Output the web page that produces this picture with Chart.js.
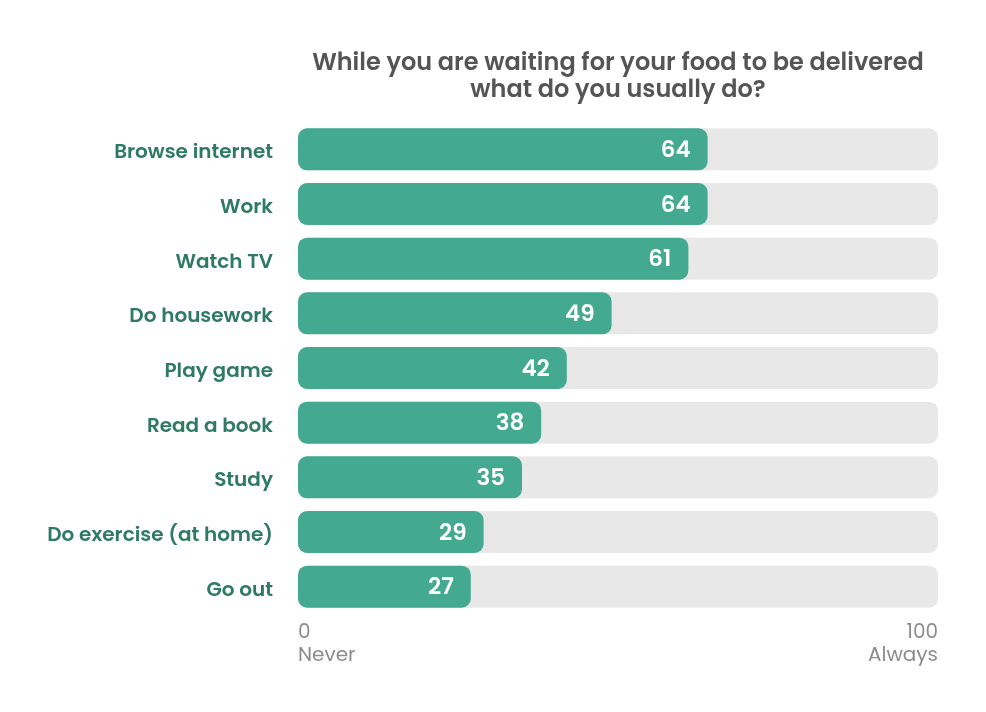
<!DOCTYPE html>
<html>
<head>
<meta charset="utf-8">
<script src="https://cdn.jsdelivr.net/npm/chart.js@4"></script>
<style>
  body { margin: 0; background: #fff; }
  #chart { display: block; }
</style>
</head>
<body>
<canvas id="chart" width="986" height="712"></canvas>
<script>
const titleLines = ["While you are waiting for your food to be delivered", "what do you usually do?"];
const activities = ["Browse internet", "Work", "Watch TV", "Do housework", "Play game", "Read a book", "Study", "Do exercise (at home)", "Go out"];
const scores = [64, 64, 61, 49, 42, 38, 35, 29, 27];
const maxScore = 100;
const endLabels = { 0: "Never", 100: "Always" };

const FONT = "Poppins, Inter, 'Open Sans', sans-serif";

// title centred over the plot area, not the whole canvas
const titlePlugin = {
  id: "centredTitle",
  afterDraw(chart) {
    const { ctx, chartArea } = chart;
    const cx = (chartArea.left + chartArea.right) / 2;
    ctx.save();
    ctx.font = "600 24px " + FONT;
    ctx.fillStyle = "#555555";
    ctx.textAlign = "center";
    ctx.textBaseline = "middle";
    titleLines.forEach((line, i) => ctx.fillText(line, cx, 64 + i * 27));
    ctx.restore();
  }
};

const valueLabels = {
  id: "valueLabels",
  afterDatasetsDraw(chart) {
    const { ctx } = chart;
    const meta = chart.getDatasetMeta(1);
    ctx.save();
    ctx.font = "600 23px " + FONT;
    ctx.fillStyle = "#ffffff";
    ctx.textAlign = "right";
    ctx.textBaseline = "middle";
    meta.data.forEach((bar, i) => {
      ctx.fillText(scores[i], bar.x - 17, bar.y + 2);
    });
    ctx.restore();
  }
};

new Chart(document.getElementById("chart"), {
  type: "bar",
  data: {
    labels: activities,
    datasets: [
      {
        label: "max",
        data: activities.map(() => maxScore),
        backgroundColor: "#e8e8e8",
        borderRadius: 9,
        borderSkipped: false,
        grouped: false,
        order: 2,
        categoryPercentage: 1,
        barPercentage: 0.767
      },
      {
        label: "score",
        data: scores,
        backgroundColor: "#43a991",
        borderRadius: 9,
        borderSkipped: false,
        grouped: false,
        order: 1,
        categoryPercentage: 1,
        barPercentage: 0.767
      }
    ]
  },
  options: {
    indexAxis: "y",
    responsive: false,
    animation: false,
    layout: { padding: { top: 122, right: 48, bottom: 38, left: 0 } },
    plugins: {
      legend: { display: false },
      tooltip: { enabled: false },
      title: { display: false }
    },
    scales: {
      x: {
        min: 0,
        max: maxScore,
        grid: { display: false },
        border: { display: false },
        afterFit(scale) { scale.height = 60; },
        ticks: {
          stepSize: 100,
          align: "inner",
          padding: -1,
          maxRotation: 0,
          color: "#8c8c8c",
          font: { family: FONT, size: 20, lineHeight: 1.15 },
          callback: (v) => [String(v), endLabels[v]]
        }
      },
      y: {
        grid: { display: false },
        border: { display: false },
        afterFit(scale) { scale.width = 298; },
        ticks: {
          padding: 17,
          labelOffset: 4,
          color: "#2e7a62",
          font: { family: FONT, size: 20, weight: "600" }
        }
      }
    }
  },
  plugins: [titlePlugin, valueLabels]
});
</script>
</body>
</html>
